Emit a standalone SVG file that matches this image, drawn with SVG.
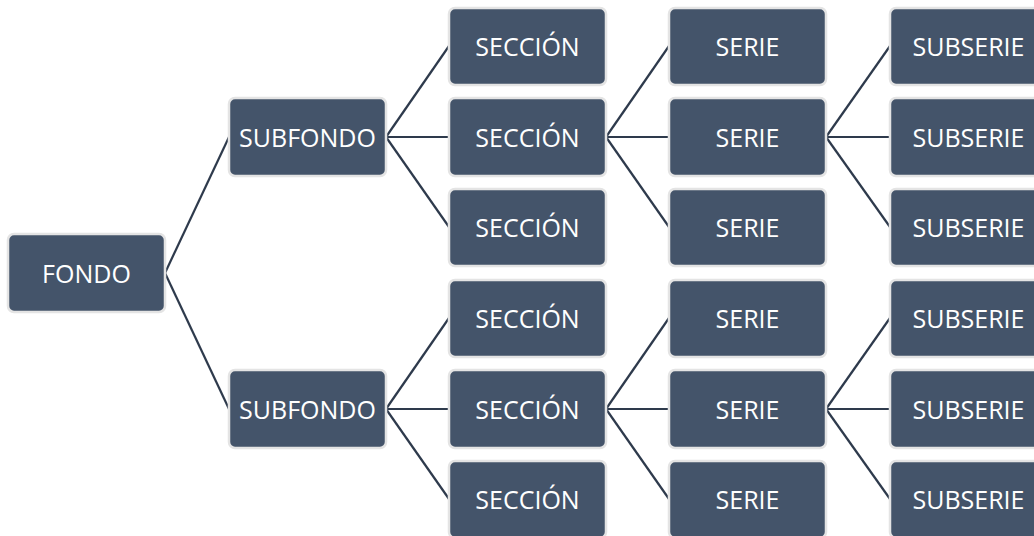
<svg xmlns="http://www.w3.org/2000/svg" width="1034" height="536" viewBox="0 0 1034 536">
<style>
.b{fill:#44546a;stroke:#e4e4e4;stroke-width:2.5}
.t{fill:#ffffff;font-family:"Open Sans","Noto Sans",sans-serif;font-size:25px;text-anchor:middle;dominant-baseline:central}
.c line{stroke:#2e3a4c;stroke-width:2.2}
</style>
<rect width="1034" height="536" fill="#ffffff"/>
<g class="c" id="connectors">
<line x1="165" y1="273" x2="229" y2="137"/>
<line x1="165" y1="273" x2="229" y2="409"/>
<line x1="386" y1="137" x2="449" y2="46"/>
<line x1="386" y1="137" x2="449" y2="137"/>
<line x1="386" y1="137" x2="449" y2="227"/>
<line x1="606" y1="137" x2="669" y2="46"/>
<line x1="606" y1="137" x2="669" y2="137"/>
<line x1="606" y1="137" x2="669" y2="227"/>
<line x1="826" y1="137" x2="890" y2="46"/>
<line x1="826" y1="137" x2="890" y2="137"/>
<line x1="826" y1="137" x2="890" y2="227"/>
<line x1="386" y1="409" x2="449" y2="318"/>
<line x1="386" y1="409" x2="449" y2="409"/>
<line x1="386" y1="409" x2="449" y2="499"/>
<line x1="606" y1="409" x2="669" y2="318"/>
<line x1="606" y1="409" x2="669" y2="409"/>
<line x1="606" y1="409" x2="669" y2="499"/>
<line x1="826" y1="409" x2="890" y2="318"/>
<line x1="826" y1="409" x2="890" y2="409"/>
<line x1="826" y1="409" x2="890" y2="499"/>
</g>
<g id="fondo"><rect class="b" x="8" y="234" width="157" height="78" rx="6"/><text class="t" x="86.5" y="273">FONDO</text></g>
<g id="subfondo1"><rect class="b" x="229" y="98" width="157" height="78" rx="6"/><text class="t" x="307.5" y="137">SUBFONDO</text></g>
<g id="subfondo2"><rect class="b" x="229" y="370" width="157" height="78" rx="6"/><text class="t" x="307.5" y="409">SUBFONDO</text></g>
<g id="seccion1"><rect class="b" x="449" y="8" width="157" height="77" rx="6"/><text class="t" x="527.5" y="46">SECCIÓN</text></g>
<g id="seccion2"><rect class="b" x="449" y="98" width="157" height="78" rx="6"/><text class="t" x="527.5" y="137">SECCIÓN</text></g>
<g id="seccion3"><rect class="b" x="449" y="189" width="157" height="77" rx="6"/><text class="t" x="527.5" y="227">SECCIÓN</text></g>
<g id="seccion4"><rect class="b" x="449" y="280" width="157" height="77" rx="6"/><text class="t" x="527.5" y="318">SECCIÓN</text></g>
<g id="seccion5"><rect class="b" x="449" y="370" width="157" height="78" rx="6"/><text class="t" x="527.5" y="409">SECCIÓN</text></g>
<g id="seccion6"><rect class="b" x="449" y="461" width="157" height="77" rx="6"/><text class="t" x="527.5" y="499">SECCIÓN</text></g>
<g id="serie1"><rect class="b" x="669" y="8" width="157" height="77" rx="6"/><text class="t" x="747.5" y="46">SERIE</text></g>
<g id="serie2"><rect class="b" x="669" y="98" width="157" height="78" rx="6"/><text class="t" x="747.5" y="137">SERIE</text></g>
<g id="serie3"><rect class="b" x="669" y="189" width="157" height="77" rx="6"/><text class="t" x="747.5" y="227">SERIE</text></g>
<g id="serie4"><rect class="b" x="669" y="280" width="157" height="77" rx="6"/><text class="t" x="747.5" y="318">SERIE</text></g>
<g id="serie5"><rect class="b" x="669" y="370" width="157" height="78" rx="6"/><text class="t" x="747.5" y="409">SERIE</text></g>
<g id="serie6"><rect class="b" x="669" y="461" width="157" height="77" rx="6"/><text class="t" x="747.5" y="499">SERIE</text></g>
<g id="subserie1"><rect class="b" x="890" y="8" width="157" height="77" rx="6"/><text class="t" x="968.5" y="46">SUBSERIE</text></g>
<g id="subserie2"><rect class="b" x="890" y="98" width="157" height="78" rx="6"/><text class="t" x="968.5" y="137">SUBSERIE</text></g>
<g id="subserie3"><rect class="b" x="890" y="189" width="157" height="77" rx="6"/><text class="t" x="968.5" y="227">SUBSERIE</text></g>
<g id="subserie4"><rect class="b" x="890" y="280" width="157" height="77" rx="6"/><text class="t" x="968.5" y="318">SUBSERIE</text></g>
<g id="subserie5"><rect class="b" x="890" y="370" width="157" height="78" rx="6"/><text class="t" x="968.5" y="409">SUBSERIE</text></g>
<g id="subserie6"><rect class="b" x="890" y="461" width="157" height="77" rx="6"/><text class="t" x="968.5" y="499">SUBSERIE</text></g>
</svg>
